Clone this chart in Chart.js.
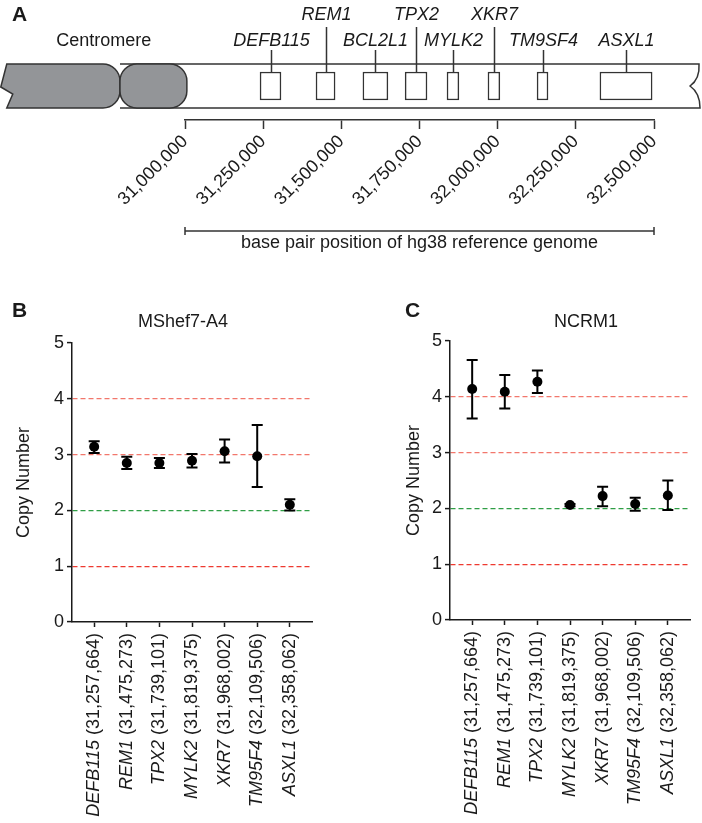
<!DOCTYPE html>
<html>
<head>
<meta charset="utf-8">
<script src="https://cdn.jsdelivr.net/npm/chart.js@4.4.1/dist/chart.umd.min.js"></script>
<style>
  html, body { margin: 0; padding: 0; background: #fff; }
  body { width: 702px; height: 823px; position: relative; overflow: hidden; }
  canvas { position: absolute; }
  #map { left: 0; top: 0; }
  #panelB { left: 0; top: 280px; }
  #panelC { left: 351px; top: 280px; }
</style>
</head>
<body>
<canvas id="map" width="702" height="260"></canvas>
<canvas id="panelB" width="350" height="543"></canvas>
<canvas id="panelC" width="351" height="543"></canvas>
<script>
const FONT = "'Liberation Sans', Arial, Helvetica, sans-serif";
const INK = '#1a1a1a';
Chart.defaults.font.family = FONT;
Chart.defaults.color = INK;

// --- panel A: genes along chr20q11.21 (hg38) ---
const mapGenes = ['DEFB115', 'REM1', 'BCL2L1', 'TPX2', 'MYLK2', 'XKR7', 'TM9SF4', 'ASXL1'];
const mapStart = [31240000, 31419000, 31569000, 31704000, 31838000, 31969000, 32126000, 32327000];
const mapEnd   = [31307000, 31480000, 31649000, 31774000, 31876000, 32007000, 32161000, 32494000];
const mapLabelRow = [0, 1, 0, 1, 0, 1, 0, 0];   // 1 = label on the upper row
const mapTicks = [31000000, 31250000, 31500000, 31750000, 32000000, 32250000, 32500000];
// schematic chromosome: cut end, centromere pinch, centromere end, cut end
const chromBp = [30430000, 30792000, 31006000, 32644000];

// --- panels B/C: qPCR copy number ---
const qGenes = ['DEFB115', 'REM1', 'TPX2', 'MYLK2', 'XKR7', 'TM95F4', 'ASXL1'];
const qPositions = ['31,257,664', '31,475,273', '31,739,101', '31,819,375', '31,968,002', '32,109,506', '32,358,062'];
const mshefMean = [3.14, 2.85, 2.85, 2.89, 3.06, 2.97, 2.10];
const mshefLow  = [3.03, 2.74, 2.76, 2.77, 2.86, 2.42, 2.00];
const mshefHigh = [3.24, 2.96, 2.94, 3.01, 3.27, 3.53, 2.20];
const ncrmMean = [4.14, 4.09, 4.27, 2.06, 2.22, 2.08, 2.23];
const ncrmLow  = [3.61, 3.79, 4.07, 2.04, 2.04, 1.96, 1.97];
const ncrmHigh = [4.66, 4.39, 4.47, 2.08, 2.39, 2.19, 2.50];
const copyTicks = [0, 1, 2, 3, 4, 5];
const redLevels = [1, 3, 4];
const greenLevels = [2];

const chromosomePlugin = {
  id: 'chromosome',
  beforeDatasetsDraw(chart) {
    const ctx = chart.ctx;
    const xs = chart.scales.x, ys = chart.scales.y;
    const cy = ys.getPixelForValue(0);
    const top = cy - 22, bot = cy + 22, r = 17;
    const [x0, xm, xc, x1] = chromBp.map(v => xs.getPixelForValue(v));
    ctx.save();
    ctx.lineWidth = 1.5;
    ctx.strokeStyle = '#333';
    // white arm with cut end
    ctx.beginPath();
    ctx.moveTo(xm, top);
    ctx.lineTo(x1, top);
    ctx.quadraticCurveTo(x1 + 1, cy - 7, x1 - 9, cy);
    ctx.quadraticCurveTo(x1 + 1, cy + 7, x1 + 1, bot);
    ctx.lineTo(xm, bot);
    ctx.fillStyle = '#fff';
    ctx.fill();
    ctx.stroke();
    ctx.fillStyle = '#939598';
    // first grey lobe, jagged left end
    ctx.beginPath();
    ctx.moveTo(x0, top);
    ctx.lineTo(xm - r, top);
    ctx.arcTo(xm, top, xm, cy, r);
    ctx.arcTo(xm, bot, xm - r, bot, r);
    ctx.lineTo(x0, bot);
    ctx.lineTo(x0 + 6, cy + 8);
    ctx.lineTo(x0 - 6, cy + 1);
    ctx.closePath();
    ctx.fill();
    ctx.stroke();
    // second grey lobe
    ctx.beginPath();
    ctx.moveTo(xm + r, top);
    ctx.lineTo(xc - r, top);
    ctx.arcTo(xc, top, xc, cy, r);
    ctx.arcTo(xc, bot, xc - r, bot, r);
    ctx.lineTo(xm + r, bot);
    ctx.arcTo(xm, bot, xm, cy, r);
    ctx.arcTo(xm, top, xm + r, top, r);
    ctx.closePath();
    ctx.fill();
    ctx.stroke();
    ctx.restore();
  },
  afterDatasetsDraw(chart) {
    const ctx = chart.ctx;
    const xs = chart.scales.x, ys = chart.scales.y;
    const cy = ys.getPixelForValue(0);
    const top = cy - 22, boxTop = cy - 14;
    ctx.save();
    ctx.strokeStyle = '#333';
    ctx.lineWidth = 1.5;
    ctx.fillStyle = INK;
    ctx.textAlign = 'center';
    ctx.textBaseline = 'alphabetic';
    ctx.font = 'italic 18px ' + FONT;
    mapGenes.forEach((g, i) => {
      const cx = Math.round((xs.getPixelForValue(mapStart[i]) + xs.getPixelForValue(mapEnd[i])) / 2) + 0.5;
      const upper = mapLabelRow[i] === 1;
      ctx.beginPath();
      ctx.moveTo(cx, boxTop);
      ctx.lineTo(cx, upper ? top - 37 : top - 14);
      ctx.stroke();
      ctx.fillText(g, cx, upper ? top - 44 : top - 18);
    });
    const [x0, , xc] = chromBp.map(v => xs.getPixelForValue(v));
    ctx.font = '18px ' + FONT;
    ctx.fillText('Centromere', (x0 + xc) / 2 + 7, top - 18);
    ctx.textAlign = 'left';
    ctx.font = 'bold 21px ' + FONT;
    ctx.fillText('A', 12, 21);
    // bracket above the axis title
    const y = xs.bottom - 29;
    ctx.beginPath();
    ctx.moveTo(xs.left, y - 4); ctx.lineTo(xs.left, y + 4);
    ctx.moveTo(xs.left, y); ctx.lineTo(xs.right, y);
    ctx.moveTo(xs.right, y - 4); ctx.lineTo(xs.right, y + 4);
    ctx.stroke();
    ctx.restore();
  }
};

new Chart(document.getElementById('map'), {
  type: 'bar',
  data: {
    labels: ['chr20'],
    datasets: [{
      data: mapGenes.map((g, i) => ({ y: 'chr20', x: [mapStart[i], mapEnd[i]] })),
      backgroundColor: '#fff',
      borderColor: '#333',
      borderWidth: 1.5,
      borderSkipped: false,
      barThickness: 28
    }]
  },
  options: {
    indexAxis: 'y',
    responsive: false,
    animation: false,
    layout: { padding: { left: 185, right: 48, top: 52, bottom: 0 } },
    plugins: { legend: { display: false }, tooltip: { enabled: false } },
    scales: {
      y: { type: 'category', display: false },
      x: {
        type: 'linear',
        min: mapTicks[0],
        max: mapTicks[mapTicks.length - 1],
        afterBuildTicks: s => { s.ticks = mapTicks.map(v => ({ value: v })); },
        afterFit: s => { s.height = 140; },
        ticks: {
          autoSkip: false, minRotation: 45, maxRotation: 45, padding: 2,
          font: { size: 18 }, color: INK,
          callback: v => v.toLocaleString('en-US')
        },
        grid: { drawOnChartArea: false, drawTicks: true, tickLength: 9, tickColor: '#333', tickWidth: 1.5 },
        border: { color: '#333', width: 1.5 },
        title: {
          display: true, text: 'base pair position of hg38 reference genome',
          font: { size: 18 }, color: INK, padding: { top: 0, bottom: 6 }
        }
      }
    }
  },
  plugins: [chromosomePlugin]
});

const errorBarPlugin = {
  id: 'errorBars',
  beforeDatasetsDraw(chart, args, opts) {
    const ctx = chart.ctx, ys = chart.scales.y;
    const meta = chart.getDatasetMeta(0);
    ctx.save();
    ctx.strokeStyle = '#000';
    ctx.lineWidth = 2;
    meta.data.forEach((pt, i) => {
      const yl = ys.getPixelForValue(opts.low[i]);
      const yh = ys.getPixelForValue(opts.high[i]);
      ctx.beginPath();
      ctx.moveTo(pt.x, yl); ctx.lineTo(pt.x, yh);
      ctx.moveTo(pt.x - 5.5, yl); ctx.lineTo(pt.x + 5.5, yl);
      ctx.moveTo(pt.x - 5.5, yh); ctx.lineTo(pt.x + 5.5, yh);
      ctx.stroke();
    });
    ctx.restore();
  }
};

const panelTextPlugin = {
  id: 'panelText',
  afterDraw(chart, args, opts) {
    const ctx = chart.ctx, xs = chart.scales.x;
    ctx.save();
    ctx.fillStyle = INK;
    ctx.textBaseline = 'alphabetic';
    ctx.font = 'bold 21px ' + FONT;
    ctx.textAlign = 'left';
    ctx.fillText(opts.letter, opts.letterX, 37);
    ctx.font = '18px ' + FONT;
    ctx.textAlign = 'center';
    ctx.fillText(opts.title, opts.titleX, 47);
    // gene (position) labels: italic symbol, upright coordinate
    ctx.textBaseline = 'middle';
    ctx.textAlign = 'right';
    qGenes.forEach((g, i) => {
      ctx.save();
      ctx.translate(xs.getPixelForValue(i), xs.top + 11);
      ctx.rotate(-Math.PI / 2);
      ctx.font = '18px ' + FONT;
      const pos = ' (' + qPositions[i] + ')';
      ctx.fillText(pos, 0, 0);
      const w = ctx.measureText(pos).width;
      ctx.font = 'italic 18px ' + FONT;
      ctx.fillText(g, -w, 0);
      ctx.restore();
    });
    ctx.restore();
  }
};

function levelColor(c) {
  if (!c.tick) return 'rgba(0,0,0,0)';
  if (greenLevels.includes(c.tick.value)) return '#2f9e45';
  if (redLevels.includes(c.tick.value)) return c.tick.value === 1 ? '#ee3a30' : '#f2776c';
  return 'rgba(0,0,0,0)';
}

function copyNumberPanel(id, cfg) {
  return new Chart(document.getElementById(id), {
    type: 'scatter',
    data: {
      datasets: [{
        data: cfg.mean.map((v, i) => ({ x: i, y: v })),
        pointRadius: 5, pointHoverRadius: 5,
        backgroundColor: '#000', borderWidth: 0
      }]
    },
    options: {
      responsive: false,
      animation: false,
      layout: { padding: { top: cfg.top, right: cfg.right, left: 0, bottom: 0 } },
      plugins: {
        legend: { display: false },
        tooltip: { enabled: false },
        errorBars: { low: cfg.low, high: cfg.high },
        panelText: { letter: cfg.letter, letterX: cfg.letterX, title: cfg.title, titleX: cfg.titleX }
      },
      scales: {
        x: {
          type: 'linear',
          min: -0.68,
          max: qGenes.length - 0.32,
          afterBuildTicks: s => { s.ticks = qGenes.map((g, i) => ({ value: i })); },
          afterFit: s => { s.height = cfg.xAxisHeight; },
          ticks: { display: false },
          grid: { drawOnChartArea: false, drawTicks: true, tickLength: 5, tickColor: INK, tickWidth: 1.5 },
          border: { color: INK, width: 1.5 }
        },
        y: {
          min: 0,
          max: 5,
          afterBuildTicks: s => { s.ticks = copyTicks.map(v => ({ value: v })); },
          afterFit: s => { s.width = cfg.yAxisWidth; },
          ticks: { font: { size: 18 }, color: INK, padding: 3 },
          grid: { color: levelColor, lineWidth: 1.2, drawTicks: true, tickLength: 5, tickColor: INK, tickWidth: 1.5 },
          border: { color: INK, width: 1.5, dash: [5, 3] },
          title: {
            display: true, text: 'Copy Number', font: { size: 18 }, color: INK,
            padding: { top: cfg.yTitlePad, bottom: 0 }
          }
        }
      }
    },
    plugins: [errorBarPlugin, panelTextPlugin]
  });
}

copyNumberPanel('panelB', {
  mean: mshefMean, low: mshefLow, high: mshefHigh,
  letter: 'B', letterX: 12, title: 'MShef7-A4', titleX: 183,
  top: 63, right: 38, yAxisWidth: 72, xAxisHeight: 201, yTitlePad: 13
});

copyNumberPanel('panelC', {
  mean: ncrmMean, low: ncrmLow, high: ncrmHigh,
  letter: 'C', letterX: 54, title: 'NCRM1', titleX: 235,
  top: 61, right: 12, yAxisWidth: 99, xAxisHeight: 203, yTitlePad: 52
});
</script>
</body>
</html>
